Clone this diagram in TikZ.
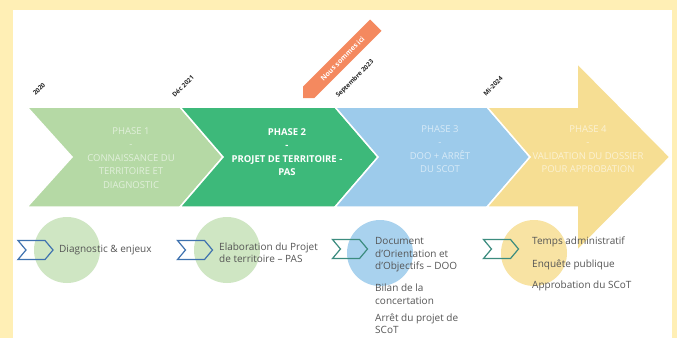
\documentclass[tikz,border=0pt]{standalone}
\usepackage{fontspec}
\setmainfont{Open Sans}
\usetikzlibrary{shapes.symbols}
\definecolor{framecol}{HTML}{FFEFB5}
\definecolor{greenA}{HTML}{B5D9A5}
\definecolor{greenB}{HTML}{3DB97A}
\definecolor{blueC}{HTML}{9DCBEB}
\definecolor{yellowD}{HTML}{F6DE93}
\definecolor{bubA}{HTML}{CFE6C3}
\definecolor{bubC}{HTML}{A9D2EE}
\definecolor{bubD}{HTML}{F8E3A3}
\definecolor{iconblue}{HTML}{3F72AF}
\definecolor{iconteal}{HTML}{3C8C7F}
\definecolor{notecol}{HTML}{555555}
\definecolor{datecol}{HTML}{262626}
\definecolor{tagcol}{HTML}{F4895F}
\tikzset{phase/.style={draw=white, line width=1.5pt, line join=miter}}
\tikzset{phasetext/.style={font=\fontsize{9.5}{13.5}\selectfont, text=white, align=center}}
\tikzset{fadedtext/.style={phasetext, text opacity=0.6}}
\tikzset{datelabel/.style={font=\fontsize{6.3}{7}\selectfont\bfseries, text=datecol, rotate=45, inner sep=0pt}}
\tikzset{bubble/.style={circle, minimum size=66pt, inner sep=0pt}}
\tikzset{iconbox/.style={signal, signal from=west, signal to=east, signal pointer angle=100, draw, line width=1.2pt, minimum width=35pt, minimum height=19pt, inner sep=0pt}}
\tikzset{note/.style={font=\fontsize{10}{12.5}\selectfont, text=notecol, align=left, anchor=west, inner sep=0pt}}
\tikzset{tagtext/.style={text=white, font=\fontsize{7}{8}\selectfont\bfseries, rotate=45, inner sep=0pt}}

\begin{document}
\begin{tikzpicture}[x=1pt, y=-1pt]
        \fill[framecol] (0,0) rectangle (677,338);
        \fill[white] (13,10) rectangle (672,338);
        \useasboundingbox (0,0) rectangle (677,338);
        % phases
        \filldraw[phase, fill=greenA] (27,107) -- (180,107) -- (223,157) -- (180,207) -- (27,207) -- (72,157) -- cycle;
        \filldraw[phase, fill=greenB] (180,107) -- (335,107) -- (378,157) -- (335,207) -- (180,207) -- (223,157) -- cycle;
        \filldraw[phase, fill=blueC] (335,107) -- (487,107) -- (530,157) -- (487,207) -- (335,207) -- (378,157) -- cycle;
        \filldraw[phase, fill=yellowD] (487,107) -- (577,107) -- (577,63) -- (670,157) -- (577,251) -- (577,207) -- (487,207) -- (530,157) -- cycle;
        \node[fadedtext] (p1) at (131,158) {PHASE 1\\-\\CONNAISSANCE DU\\TERRITOIRE ET\\DIAGNOSTIC};
        \node[phasetext, font=\fontsize{9.5}{13.5}\selectfont\bfseries] (p2) at (287,152) {PHASE 2\\-\\PROJET DE TERRITOIRE -\\PAS};
        \node[fadedtext] (p3) at (440,149) {PHASE 3\\-\\DOO + ARRÊT\\DU SCOT};
        \node[fadedtext] (p4) at (588,149) {PHASE 4\\-\\VALIDATION DU DOSSIER\\POUR APPROBATION};
        % dates
        \node[datelabel] (d1) at (39,89) {2020};
        \node[datelabel] (d2) at (183,86) {Déc 2021};
        \node[datelabel] (d3) at (355,79) {Septembre 2023};
        \node[datelabel] (d4) at (493,86) {Mi-2024};
        \fill[tagcol] (303,98) -- (314.3,98) -- (381.5,30.9) -- (370.1,19.5) -- (303,86.7) -- cycle;
        \node[tagtext] (here) at (342.5,58.5) {Nous sommes ici};
        % steps
        \node[bubble, fill=bubA] (b1) at (67,250) {};
        \node[bubble, fill=bubA] (b2) at (227,250) {};
        \node[bubble, fill=bubC] (b3) at (380,253) {};
        \node[bubble, fill=bubD] (b4) at (534,253) {};
        \node[iconbox, draw=iconblue] (i1) at (35.5,250) {};
        \node[iconbox, draw=iconblue] (i2) at (195,250) {};
        \node[iconbox, draw=iconteal] (i3) at (350,249) {};
        \node[iconbox, draw=iconteal] (i4) at (501,249) {};
        \node[note] (n1) at (59,250) {Diagnostic \& enjeux};
        \node[note] (n2) at (219,252.5) {Elaboration du Projet\\de territoire – PAS};
        \node[note] (n3) at (375,255) {Document\\d'Orientation et\\d'Objectifs – DOO};
        \node[note] (n3b) at (375,294) {Bilan de la\\concertation};
        \node[note] (n3c) at (375,323.5) {Arrêt du projet de\\SCoT};
        \node[note] (n4) at (532,242) {Temps administratif};
        \node[note] (n4b) at (532,265) {Enquête publique};
        \node[note] (n4c) at (532,286) {Approbation du SCoT};
    \end{tikzpicture}
\end{document}
